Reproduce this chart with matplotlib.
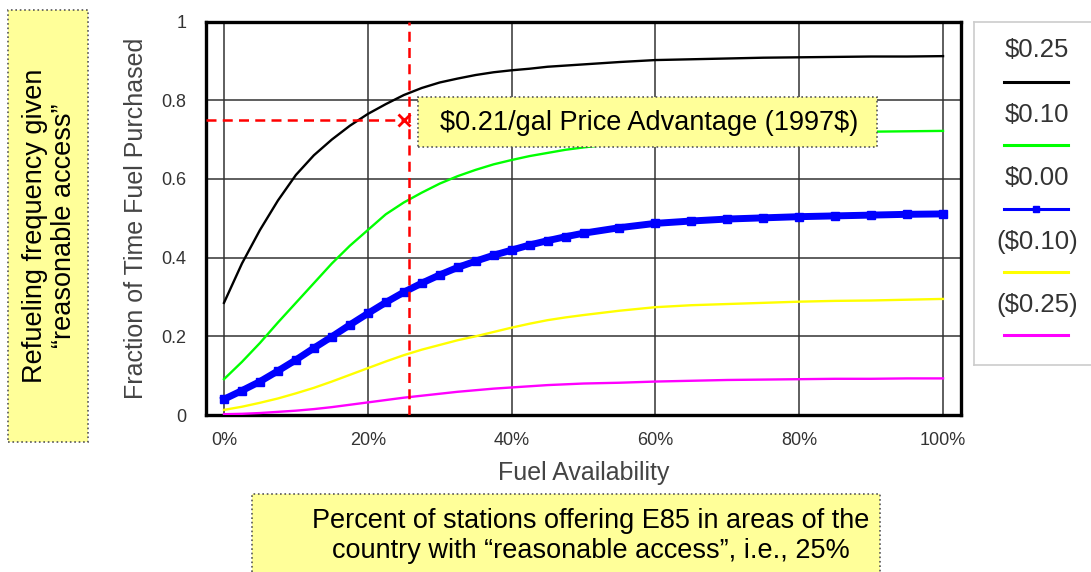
import matplotlib
matplotlib.use("Agg")
import matplotlib.pyplot as plt
from matplotlib.patches import Rectangle
from matplotlib.lines import Line2D

plt.rcParams['font.family'] = ['Liberation Sans', 'DejaVu Sans']

# ---------------- data ----------------
availability = [0, 2.5, 5, 7.5, 10, 12.5, 15, 17.5, 20, 22.5, 25, 27.5, 30, 32.5, 35, 37.5, 40,
                42.5, 45, 47.5, 50, 55, 60, 65, 70, 75, 80, 85, 90, 95, 100]
series_labels = ["\\$0.25", "\\$0.10", "\\$0.00", "(\\$0.10)", "(\\$0.25)"]
adv_025 = [0.285, 0.385, 0.47, 0.545, 0.61, 0.66, 0.70, 0.735, 0.765, 0.79, 0.813, 0.831, 0.845,
           0.855, 0.864, 0.871, 0.876, 0.880, 0.885, 0.888, 0.891, 0.897, 0.902,
           0.904, 0.906, 0.908, 0.909, 0.910, 0.911, 0.911, 0.912]
adv_010 = [0.091, 0.135, 0.183, 0.235, 0.285, 0.335, 0.385, 0.43, 0.47, 0.51, 0.54, 0.565, 0.588,
           0.607, 0.623, 0.637, 0.648, 0.658, 0.666, 0.674, 0.68, 0.69, 0.70,
           0.706, 0.711, 0.715, 0.717, 0.719, 0.720, 0.721, 0.722]
adv_000 = [0.04, 0.062, 0.085, 0.112, 0.14, 0.17, 0.199, 0.229, 0.258, 0.286, 0.312, 0.335, 0.356,
           0.375, 0.391, 0.406, 0.419, 0.432, 0.443, 0.453, 0.462, 0.476, 0.487,
           0.493, 0.498, 0.501, 0.504, 0.506, 0.508, 0.510, 0.511]
dis_010 = [0.013, 0.021, 0.031, 0.042, 0.055, 0.069, 0.085, 0.102, 0.119, 0.136, 0.152, 0.166, 0.178,
           0.19, 0.20, 0.211, 0.222, 0.232, 0.241, 0.248, 0.254, 0.265, 0.274,
           0.279, 0.282, 0.285, 0.288, 0.290, 0.291, 0.293, 0.295]
dis_025 = [0.002, 0.003, 0.005, 0.008, 0.011, 0.015, 0.02, 0.026, 0.032, 0.038, 0.044, 0.049, 0.054,
           0.059, 0.063, 0.067, 0.07, 0.073, 0.076, 0.078, 0.08, 0.082, 0.085,
           0.087, 0.089, 0.090, 0.091, 0.092, 0.092, 0.093, 0.093]
series_colors = ["#000000", "#00FF00", "#0000FF", "#FFFF00", "#FF00FF"]

xticks = [0, 20, 40, 60, 80, 100]
xtick_labels = ["0%", "20%", "40%", "60%", "80%", "100%"]
yticks = [0, 0.2, 0.4, 0.6, 0.8, 1.0]
ytick_labels = ["0", "0.2", "0.4", "0.6", "0.8", "1"]

reasonable_access = 25.7   # % of stations
refuel_freq = 0.75
marker_x = 25.0

# ---------------- figure ----------------
W, H = 1091, 572
fig = plt.figure(figsize=(W / 100, H / 100), dpi=100)

def fx(px):
    return px / W

def fy(py):
    return 1 - py / H

ax = fig.add_axes([fx(206), fy(415), fx(961) - fx(206), fy(21.5) - fy(415)])
ax.set_xlim(-2.5, 102.5)
ax.set_ylim(0, 1)

series = [adv_025, adv_010, adv_000, dis_010, dis_025]
for i, (vals, col) in enumerate(zip(series, series_colors)):
    if i == 2:
        ax.plot(availability, vals, color=col, lw=5, marker='s', ms=6.2, mec=col, mfc=col,
                solid_joinstyle='round', zorder=4)
    else:
        ax.plot(availability, vals, color=col, lw=1.7, solid_joinstyle='round', zorder=4)

ax.set_xticks(xticks)
ax.set_xticklabels(xtick_labels)
ax.set_yticks(yticks)
ax.set_yticklabels(ytick_labels)
ax.tick_params(length=0, labelsize=13, labelcolor="#333333", pad=12)
ax.tick_params(axis='y', pad=14)
ax.grid(True, color="#333333", lw=1.1)
ax.set_axisbelow(True)
for sp in ax.spines.values():
    sp.set_linewidth(2.4)
    sp.set_color("black")

ax.set_xlabel("Fuel Availability", fontsize=18, color="#444444", labelpad=9)
ax.set_ylabel("Fraction of Time Fuel Purchased", fontsize=18, color="#444444", labelpad=10)

# red reference lines
ax.axvline(reasonable_access, color="#FF0000", lw=1.8, ls=(0, (4, 2.5)), zorder=5)
ax.plot([-2.5, marker_x], [refuel_freq, refuel_freq], color="#FF0000", lw=1.8,
        ls=(0, (4, 2.5)), zorder=5)
ax.plot([marker_x], [refuel_freq], marker='x', color="#FF0000", ms=8, mew=2, zorder=6)

# annotation box
fig.patches.append(Rectangle((fx(418), fy(147)), fx(877) - fx(418), fy(97) - fy(147),
                             transform=fig.transFigure, facecolor="#FFFF99", edgecolor="#555555",
                             lw=1.2, ls=':', zorder=10))
fig.text(fx(649), fy(123), "\\$0.21/gal Price Advantage (1997\\$)", fontsize=19.5, color="black",
         ha='center', va='center', zorder=11)

# left box
fig.patches.append(Rectangle((fx(8), fy(442)), fx(88) - fx(8), fy(10) - fy(442),
                             transform=fig.transFigure, facecolor="#FFFF99", edgecolor="#555555",
                             lw=1.2, ls=':', zorder=1))
fig.text(fx(50), fy(226), "Refueling frequency given\n\u201creasonable access\u201d", fontsize=19.5,
         rotation=90, ha='center', va='center', linespacing=1.15, color="black")

# bottom box
fig.patches.append(Rectangle((fx(252), fy(575)), fx(880) - fx(252), fy(494) - fy(575),
                             transform=fig.transFigure, facecolor="#FFFF99", edgecolor="#555555",
                             lw=1.2, ls=':', zorder=1))
fig.text(fx(591), fy(536), "Percent of stations offering E85 in areas of the\n"
         "country with \u201creasonable access\u201d, i.e., 25%", fontsize=19.5,
         ha='center', va='center', linespacing=1.2, color="black")

# legend panel
lax = fig.add_axes([fx(974), fy(365), fx(1095) - fx(974), fy(22) - fy(365)])
lax.set_xlim(974, 1095)
lax.set_ylim(365, 22)
lax.set_xticks([])
lax.set_yticks([])
for name, sp in lax.spines.items():
    sp.set_color("#CCCCCC")
    sp.set_linewidth(1.2)
lax.spines['right'].set_visible(False)
text_y = [50, 115, 178, 242, 305]
line_y = [82, 145, 209, 272, 335]
for i, (lab, col) in enumerate(zip(series_labels, series_colors)):
    lax.text(1037, text_y[i], lab, fontsize=18.5, color="#333333", ha='center', va='center')
    lax.add_line(Line2D([1004, 1068], [line_y[i]] * 2, color=col, lw=2.2))
    if i == 2:
        lax.add_line(Line2D([1036], [line_y[i]], color=col, marker='s', ms=5))

fig.savefig("out.png", dpi=100)
